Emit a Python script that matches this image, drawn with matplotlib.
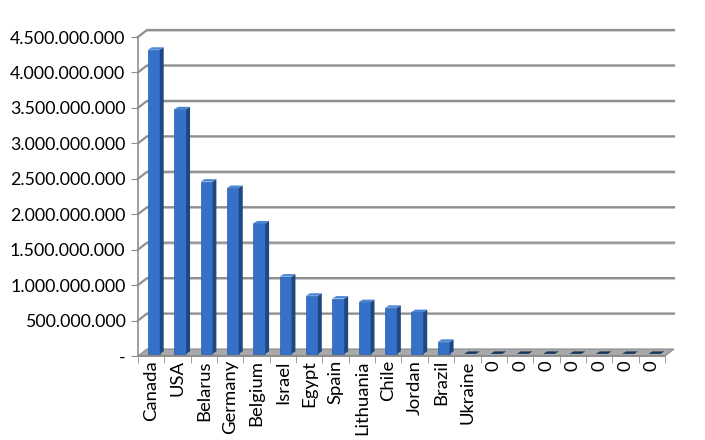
import numpy as np
import matplotlib
matplotlib.use("Agg")
from matplotlib import pyplot as plt
from matplotlib.patches import Polygon
from matplotlib.ticker import FuncFormatter, MultipleLocator

countries = ['Canada', 'USA', 'Belarus', 'Germany', 'Belgium', 'Israel', 'Egypt',
             'Spain', 'Lithuania', 'Chile', 'Jordan', 'Brazil', 'Ukraine',
             '0', '0', '0', '0', '0', '0', '0']
values = [4.29e9, 3.45e9, 2.43e9, 2.34e9, 1.84e9, 1.09e9, 0.82e9,
          0.78e9, 0.73e9, 0.65e9, 0.59e9, 0.17e9, 0, 0, 0, 0, 0, 0, 0, 0]
yticks = np.arange(0, 4.5e9 + 1, 5e8)

plt.rcParams['font.family'] = ['Lato', 'DejaVu Sans']

fig = plt.figure(figsize=(7.05, 4.4), dpi=100)
ax = fig.add_axes([138/705, 84/440, 527/705, 319/440])
n = len(countries)
ax.set_xlim(-0.5, n - 0.5)
ax.set_ylim(0, 4.5e9)

# 3d offsets of the back wall (in data units)
dx = 9 / 26.35
dy = 7 / 70.9 * 1e9
grid_c = '#8f8f8f'

# floor
floor = Polygon([(-0.5, 0), (n - 0.5, 0), (n - 0.5 + dx, dy), (-0.5 + dx, dy)],
                closed=True, facecolor='#a9a9a9', edgecolor='#8a8a8a', lw=0.8,
                clip_on=False, zorder=1)
ax.add_patch(floor)

# back wall gridlines with the diagonal on the side wall
for v in yticks[1:]:
    ax.plot([-0.5, -0.5 + dx, n - 0.5 + dx], [v, v + dy, v + dy],
            color=grid_c, lw=1.6, clip_on=False, zorder=0.5)
    ax.plot([-0.5 + dx, n - 0.5 + dx], [v + dy - 0.012e9, v + dy - 0.012e9],
            color='#dcdcdc', lw=0.8, clip_on=False, zorder=0.4)

# bars, sitting a little into the floor
w = 0.45
bdx = 0.15
bdy = 0.035e9
shift = 0.1
base = 0.03e9
for i, v in enumerate(values):
    x0 = i - w / 2 + shift
    x1 = i + w / 2 + shift
    t = base + v
    if v > 0:
        ax.bar(i + shift, v, width=w, bottom=base, color='#3571c8',
               edgecolor='#2a5da8', lw=0.5, zorder=3)
        side = Polygon([(x1, base), (x1 + bdx, base + bdy), (x1 + bdx, t + bdy), (x1, t)],
                       closed=True, facecolor='#1f4780', edgecolor='none', zorder=3)
        ax.add_patch(side)
        top_c = '#4a86d8'
    else:
        top_c = '#17375e'
    top = Polygon([(x0, t), (x1, t), (x1 + bdx, t + bdy), (x0 + bdx, t + bdy)],
                  closed=True, facecolor=top_c, edgecolor='none', zorder=3)
    ax.add_patch(top)

for s in ['top', 'right', 'bottom']:
    ax.spines[s].set_visible(False)
ax.spines['left'].set_color(grid_c)
ax.spines['left'].set_linewidth(1.2)
ax.plot([-0.5, n - 0.5], [0, 0], color='#8a8a8a', lw=1.2, clip_on=False, zorder=2)

ax.set_yticks(yticks)
ax.yaxis.set_major_formatter(FuncFormatter(
    lambda v, p: '-' if v == 0 else f'{v:,.0f}'.replace(',', '.')))
ax.tick_params(axis='y', length=5, color=grid_c, labelsize=12.8, pad=4)

ax.set_xticks(np.arange(n))
ax.set_xticklabels(countries, rotation=90)
ax.xaxis.set_minor_locator(MultipleLocator(1, offset=0.5))
ax.tick_params(axis='x', which='major', length=0, labelsize=13.3, pad=3)
ax.tick_params(axis='x', which='minor', length=5, color=grid_c)

fig.savefig('out.png', dpi=100)
